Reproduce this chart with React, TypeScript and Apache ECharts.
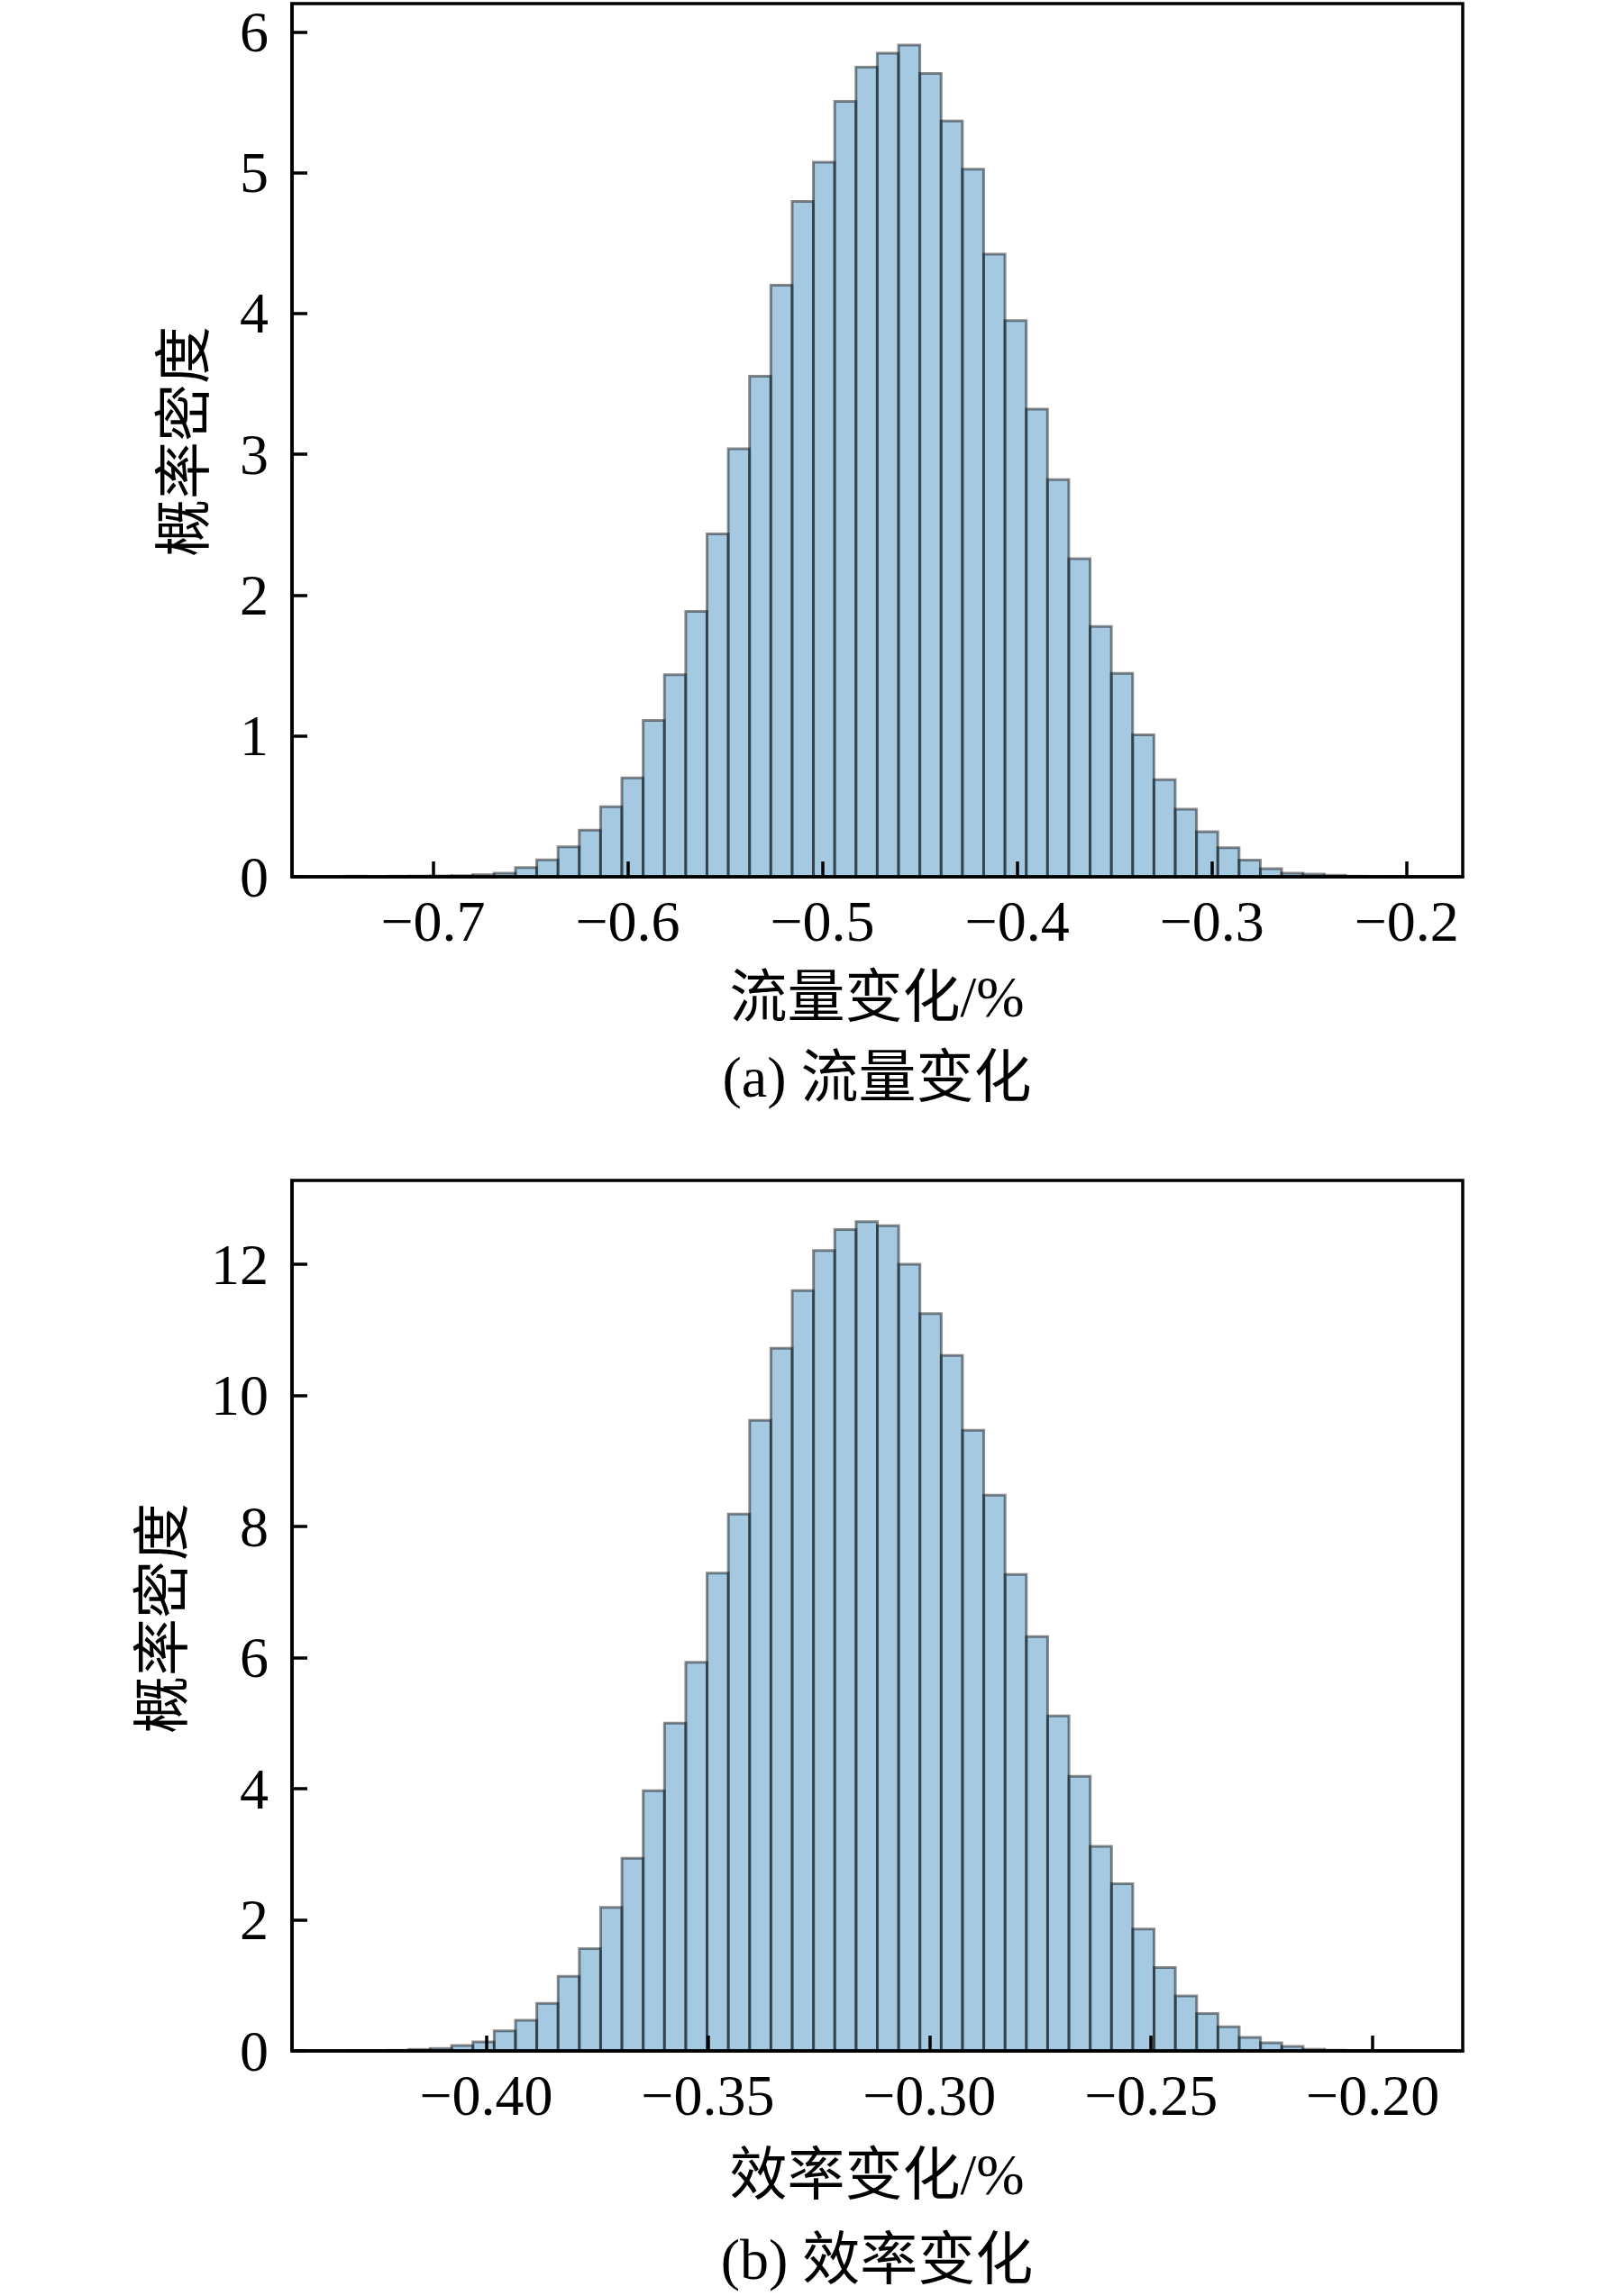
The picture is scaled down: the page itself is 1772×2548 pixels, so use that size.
import React, { useEffect, useRef } from "react";
import * as echarts from "echarts";

// ---- Data ----
const topBinStart = -0.7451;
const topBinWidth = 0.01093;
const topHeights = [
  0.004, 0.0, 0.004, 0.005, 0.006, 0.008, 0.015, 0.026, 0.066, 0.12,
  0.213, 0.331, 0.498, 0.703, 1.11, 1.435, 1.885, 2.434, 3.04, 3.554,
  4.2, 4.795, 5.074, 5.506, 5.749, 5.848, 5.906, 5.704, 5.367, 5.025,
  4.422, 3.95, 3.32, 2.82, 2.258, 1.777, 1.444, 1.008, 0.69, 0.48,
  0.32, 0.207, 0.118, 0.057, 0.025, 0.019, 0.011, 0.004, 0.0, 0.003,
];
const topXTicks = [-0.7, -0.6, -0.5, -0.4, -0.3, -0.2];
const topYTicks = [0, 1, 2, 3, 4, 5, 6];
const topXRange = [-0.7724, -0.1712];
const topYMax = 6.2;

const bottomBinStart = -0.4318;
const bottomBinWidth = 0.004802;
const bottomHeights = [
  0.002, 0.002, 0.009, 0.023, 0.037, 0.083, 0.138, 0.307, 0.468, 0.726,
  1.139, 1.56, 2.19, 2.94, 3.97, 5.0, 5.93, 7.29, 8.19, 9.62,
  10.72, 11.6, 12.21, 12.53, 12.65, 12.59, 12.0, 11.25, 10.61, 9.47,
  8.48, 7.27, 6.32, 5.11, 4.19, 3.12, 2.55, 1.86, 1.27, 0.84,
  0.57, 0.367, 0.207, 0.124, 0.069, 0.025, 0.01, 0.003, 0.002, 0.002,
];
const bottomXTicks = [-0.4, -0.35, -0.3, -0.25, -0.2];
const bottomYTicks = [0, 2, 4, 6, 8, 10, 12];
const bottomXRange = [-0.4438, -0.1797];
const bottomYMax = 13.28;

const yLabelText = "概率密度";
const topXName = "流量变化/%";
const topCaption = "(a) 流量变化";
const bottomXName = "效率变化/%";
const bottomCaption = "(b) 效率变化";

const FONT = "'Liberation Serif', 'Times New Roman', 'Noto Sans CJK SC', serif";

function binData(start: number, width: number, heights: number[]) {
  return heights.map((h, i) => [start + i * width, start + (i + 1) * width, h]);
}

const fmt = (digits: number) => (v: number) =>
  (v < 0 ? "\u2212" : "") + Math.abs(v).toFixed(digits);

export default function App() {
  const ref = useRef<HTMLDivElement>(null);
  useEffect(() => {
    document.body.style.margin = "0";
    if (!ref.current) return;
    const chart = echarts.init(ref.current, null, { renderer: "svg" });

    const renderItem = (params: any, api: any) => {
      const x0 = api.value(0);
      const x1 = api.value(1);
      const h = api.value(2);
      const p0 = api.coord([x0, h]);
      const p1 = api.coord([x1, 0]);
      return {
        type: "rect",
        shape: { x: p0[0], y: p0[1], width: p1[0] - p0[0], height: p1[1] - p0[1] },
        style: {
          fill: "rgba(31,119,180,0.4)",
          stroke: "rgba(0,0,0,0.45)",
          lineWidth: 3,
        },
      };
    };

    const xAxisCommon = (range: number[], ticks: number[], digits: number, gridIndex: number) => ({
      type: "value",
      gridIndex,
      min: range[0],
      max: range[1],
      z: 5,
      axisLine: { show: true, onZero: false, lineStyle: { color: "#000", width: 3.5 } },
      axisTick: {
        show: true,
        inside: true,
        length: 17,
        customValues: ticks,
        lineStyle: { color: "#000", width: 3.5 },
      },
      axisLabel: {
        show: true,
        customValues: ticks,
        margin: 17,
        fontSize: 64,
        fontFamily: FONT,
        color: "#000",
        formatter: fmt(digits),
      },
      splitLine: { show: false },
    });

    const yAxisCommon = (max: number, ticks: number[], gridIndex: number) => ({
      type: "value",
      gridIndex,
      min: 0,
      max,
      z: 5,
      axisLine: { show: true, onZero: false, lineStyle: { color: "#000", width: 3.5 } },
      axisTick: {
        show: true,
        inside: true,
        length: 17,
        customValues: ticks,
        lineStyle: { color: "#000", width: 3.5 },
      },
      axisLabel: {
        show: true,
        customValues: ticks,
        margin: 26,
        fontSize: 64,
        fontFamily: FONT,
        color: "#000",
        formatter: (v: number) => String(v),
      },
      splitLine: { show: false },
    });

    const textStyle = (text: string) => ({
      text,
      fontSize: 64,
      fontFamily: FONT,
      fill: "#000",
      align: "center",
      verticalAlign: "middle",
    });

    chart.setOption({
      animation: false,
      backgroundColor: "#fff",
      grid: [
        { left: 324, top: 4, width: 1299, height: 969, show: true, borderColor: "#000", borderWidth: 3.5, backgroundColor: "transparent" },
        { left: 324, top: 1310, width: 1299, height: 966, show: true, borderColor: "#000", borderWidth: 3.5, backgroundColor: "transparent" },
      ],
      xAxis: [
        xAxisCommon(topXRange, topXTicks, 1, 0),
        xAxisCommon(bottomXRange, bottomXTicks, 2, 1),
      ],
      yAxis: [
        yAxisCommon(topYMax, topYTicks, 0),
        yAxisCommon(bottomYMax, bottomYTicks, 1),
      ],
      series: [
        {
          type: "custom",
          xAxisIndex: 0,
          yAxisIndex: 0,
          renderItem,
          encode: { x: [0, 1], y: 2 },
          data: binData(topBinStart, topBinWidth, topHeights),
          z: 2,
        },
        {
          type: "custom",
          xAxisIndex: 1,
          yAxisIndex: 1,
          renderItem,
          encode: { x: [0, 1], y: 2 },
          data: binData(bottomBinStart, bottomBinWidth, bottomHeights),
          z: 2,
        },
      ],
      graphic: [
        { type: "text", x: 204, y: 490, rotation: Math.PI / 2, style: textStyle(yLabelText) },
        { type: "text", x: 973, y: 1106, style: textStyle(topXName) },
        { type: "text", x: 973, y: 1195, style: textStyle(topCaption) },
        { type: "text", x: 180, y: 1796, rotation: Math.PI / 2, style: textStyle(yLabelText) },
        { type: "text", x: 973, y: 2413, style: textStyle(bottomXName) },
        { type: "text", x: 973, y: 2507, style: textStyle(bottomCaption) },
      ],
    });
    return () => chart.dispose();
  }, []);
  return <div ref={ref} style={{ width: 1772, height: 2548 }} />;
}
